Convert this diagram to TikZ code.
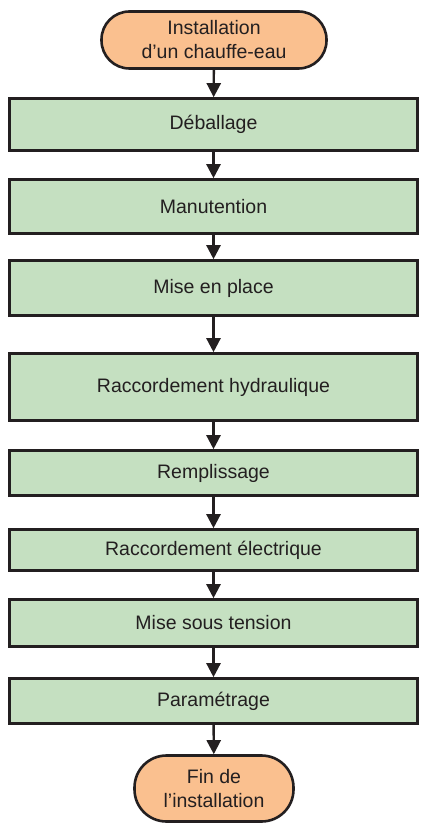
\documentclass[tikz,border=0pt]{standalone}
\usepackage{fontspec}
\setmainfont{Liberation Sans}
\usetikzlibrary{arrows.meta}
\definecolor{boxgreen}{HTML}{C5E0C1}
\definecolor{termorange}{HTML}{FAC08F}
\definecolor{ink}{HTML}{231F20}
\tikzset{
  stepbox/.style={draw=ink, line width=2.6pt, fill=boxgreen, minimum width=408pt, inner sep=0pt, text=ink, font=\fontsize{19.5}{24}\selectfont, align=center},
  term/.style={draw=ink, line width=2.6pt, fill=termorange, rounded corners=28pt, inner sep=0pt, text=ink, font=\fontsize{19.5}{24}\selectfont, align=center},
  flow/.style={draw=ink, line width=2.4pt, -{Triangle[width=14pt,length=14pt]}}
}
\begin{document}
\begin{tikzpicture}[x=1pt,y=-1pt]
\useasboundingbox (0,0) rectangle (423,826);
\node[term, minimum width=225pt, minimum height=57pt] (start) at (214,40) {Installation\\d’un chauffe-eau};
\node[stepbox, minimum height=52pt] (b1) at (213.5,124.5) {Déballage};
\node[stepbox, minimum height=54pt] (b2) at (213.5,206.5) {Manutention};
\node[stepbox, minimum height=55pt] (b3) at (213.5,288) {Mise en place};
\node[stepbox, minimum height=67pt] (b4) at (213.5,387) {Raccordement hydraulique};
\node[stepbox, minimum height=45pt] (b5) at (213.5,473) {Remplissage};
\node[stepbox, minimum height=41pt] (b6) at (213.5,550) {Raccordement électrique};
\node[stepbox, minimum height=47pt] (b7) at (213.5,623) {Mise sous tension};
\node[stepbox, minimum height=45pt] (b8) at (213.5,701) {Paramétrage};
\node[term, minimum width=159pt, minimum height=66pt, rounded corners=32pt] (end) at (214,788.5) {Fin de\\l’installation};
\draw[flow] (start) -- (b1);
\draw[flow] (b1) -- (b2);
\draw[flow] (b2) -- (b3);
\draw[flow] (b3) -- (b4);
\draw[flow] (b4) -- (b5);
\draw[flow] (b5) -- (b6);
\draw[flow] (b6) -- (b7);
\draw[flow] (b7) -- (b8);
\draw[flow] (b8) -- (end);
\end{tikzpicture}
\end{document}
